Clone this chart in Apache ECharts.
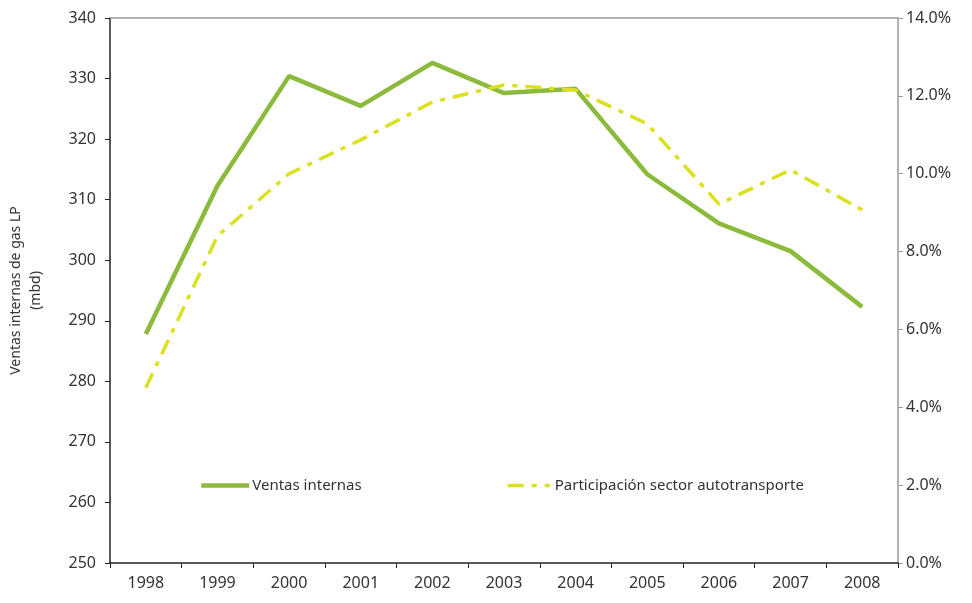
<!DOCTYPE html>
<html>
<head>
<meta charset="utf-8">
<script src="https://cdn.jsdelivr.net/npm/echarts@6/dist/echarts.min.js"></script>
<style>
  html, body { margin: 0; padding: 0; background: #fff; }
  #chart { width: 972px; height: 603px; }
</style>
</head>
<body>
<div id="chart"></div>
<script>
const years = ['1998', '1999', '2000', '2001', '2002', '2003', '2004', '2005', '2006', '2007', '2008'];
const ventasInternas = [287.8, 312.3, 330.4, 325.5, 332.6, 327.6, 328.3, 314.2, 306.1, 301.5, 292.3];
const participacion = [4.5, 8.4, 10.0, 10.87, 11.84, 12.28, 12.15, 11.28, 9.22, 10.1, 9.07];

const fontFamily = '"Noto Sans", "Open Sans", sans-serif';
const textColor = '#333';

const myChart = echarts.init(document.getElementById('chart'));

const option = {
  animation: false,
  textStyle: { fontFamily: fontFamily },
  grid: { left: 110, right: 74, top: 18, bottom: 40, outerBoundsMode: 'none' },
  legend: [
    {
      data: ['Ventas internas'],
      left: 194, top: 473,
      itemWidth: 48, itemHeight: 10, itemGap: 4,
      itemStyle: { opacity: 0 },
      lineStyle: { width: 4.5 },
      textStyle: { color: textColor, fontSize: 15, fontFamily: fontFamily, padding: [0, 0, 0, -2] }
    },
    {
      data: ['Participación sector autotransporte'],
      left: 501, top: 473,
      itemWidth: 42, itemHeight: 10,
      itemStyle: { opacity: 0 },
      lineStyle: { width: 3.5 },
      textStyle: { color: textColor, fontSize: 15, fontFamily: fontFamily }
    }
  ],
  xAxis: [
    {
      type: 'category',
      data: years,
      boundaryGap: true,
      axisLine: { lineStyle: { color: '#222', width: 1.5 } },
      axisTick: { show: true, length: 5, lineStyle: { color: '#222' } },
      axisLabel: { color: textColor, fontSize: 16, margin: 12 }
    },
    {
      type: 'category',
      data: years,
      position: 'top',
      axisLine: { lineStyle: { color: '#999', width: 1.5 } },
      axisTick: { show: false },
      axisLabel: { show: false }
    }
  ],
  yAxis: [
    {
      type: 'value',
      min: 250, max: 340, interval: 10,
      name: 'Ventas internas de gas LP\n(mbd)',
      nameLocation: 'middle',
      nameGap: 64,
      nameTextStyle: { color: textColor, fontSize: 14, lineHeight: 20 },
      axisLine: { show: true, lineStyle: { color: '#222', width: 1.5 } },
      axisTick: { show: true, length: 5, lineStyle: { color: '#222' } },
      axisLabel: { color: textColor, fontSize: 16, margin: 14 },
      splitLine: { show: false }
    },
    {
      type: 'value',
      min: 0, max: 14, interval: 2,
      position: 'right',
      axisLine: { show: true, lineStyle: { color: '#999', width: 1.5 } },
      axisTick: { show: true, length: 5, lineStyle: { color: '#999' } },
      axisLabel: {
        color: textColor, fontSize: 16, margin: 8,
        formatter: v => v.toFixed(1) + '%'
      },
      splitLine: { show: false }
    }
  ],
  series: [
    {
      name: 'Ventas internas',
      type: 'line',
      data: ventasInternas,
      symbol: 'none',
      color: '#8cba3c',
      lineStyle: { color: '#8cba3c', width: 4.5 },
      z: 3
    },
    {
      name: 'Participación sector autotransporte',
      type: 'line',
      yAxisIndex: 1,
      data: participacion,
      symbol: 'none',
      color: '#dbe01f',
      lineStyle: { color: '#dbe01f', width: 3.5, type: [16, 8, 5, 8] },
      z: 4
    }
  ]
};

myChart.setOption(option);

window.addEventListener('resize', () => {
  myChart.resize();
});
</script>
</body>
</html>
